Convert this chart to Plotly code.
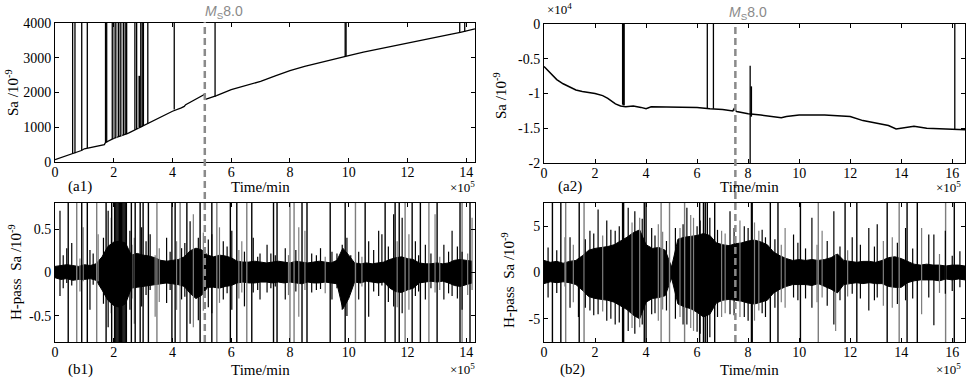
import numpy as np
import plotly.graph_objects as go

# ---------------- data (x in units of 1e5 min) ----------------
# (a1) Sa, station 1 (1e-9)
a1_t = [0, 0.3, 0.6, 0.9, 1.0, 1.3, 1.5, 1.68, 1.72, 2.0, 2.5, 3.0, 3.5, 4.0, 4.3, 4.4, 4.45,
        4.8, 5.1, 5.12, 5.5, 6.0, 6.5, 7.0, 7.5, 8.0, 8.5, 9.0, 9.5, 10.0, 10.5, 11.0, 11.5,
        12.0, 12.5, 13.0, 13.5, 13.8, 14.0, 14.3]
a1_v = [70, 150, 240, 330, 380, 430, 470, 500, 560, 680, 830, 1040, 1260, 1460, 1560, 1600, 1650,
        1800, 1950, 1800, 1910, 2080, 2190, 2320, 2480, 2630, 2750, 2860, 2960, 3060, 3160, 3250, 3340,
        3420, 3510, 3600, 3680, 3730, 3770, 3830]
# spikes in (a1): time, bottom, top, colour (k=black, g=grey)
a1_spk_t = [0.60, 0.68, 0.91, 1.10, 1.72, 1.76, 1.95, 2.00, 2.05, 2.10, 2.16, 2.22, 2.27, 2.33, 2.39, 2.44,
            2.72, 2.78, 2.84, 2.88, 2.92, 2.97, 3.01, 3.16, 4.06, 5.45, 9.88, 9.91, 13.78, 13.95]
a1_spk_lo = [240, 250, 330, 400, 560, 560, 660, 680, 690, 700, 720, 740, 750, 770, 790, 800,
             930, 950, 970, 990, 1000, 1020, 1040, 1100, 1510, 1880, 3050, 3050, 3720, 3740]
a1_spk_hi = [4100, 4100, 4100, 4100, 4100, 4100, 4100, 4100, 4100, 4100, 4100, 4100, 4100, 4100, 4100, 4100,
             4100, 4100, 2480, 2480, 4100, 4100, 4100, 4100, 4100, 4100, 4100, 4100, 4100, 4100]
a1_spk_c = ['k', 'k', 'k', 'k', 'k', 'k', 'k', 'g', 'k', 'g', 'k', 'k', 'g', 'k', 'k', 'k',
            'k', 'k', 'g', 'k', 'k', 'k', 'k', 'k', 'k', 'k', 'k', 'k', 'k', 'k']

# (a2) Sa, station 2 (1e4 x 1e-9)
a2_t = [0, 0.25, 0.5, 0.75, 1.0, 1.25, 1.5, 2.0, 2.3, 2.5, 2.8, 3.0, 3.2, 3.5, 3.8, 4.0, 4.2, 5.0,
        6.0, 6.5, 7.0, 7.4, 7.45, 7.55, 8.0, 8.5, 9.0, 9.3, 9.5, 10.0, 11.0, 12.0, 12.5, 13.0,
        13.5, 13.8, 14.0, 14.5, 15.0, 15.5, 16.0, 16.5]
a2_v = [-0.61, -0.70, -0.80, -0.86, -0.91, -0.95, -0.97, -1.00, -1.03, -1.07, -1.15, -1.18, -1.19,
        -1.18, -1.20, -1.22, -1.19, -1.19, -1.20, -1.22, -1.23, -1.25, -1.22, -1.26, -1.29, -1.31,
        -1.33, -1.35, -1.33, -1.31, -1.31, -1.33, -1.39, -1.43, -1.46, -1.51, -1.50, -1.47, -1.50,
        -1.51, -1.51, -1.52]
a2_spk_t = [3.08, 3.10, 3.12, 3.14, 6.40, 6.64, 8.08, 8.12, 8.13, 16.1]
a2_spk_lo = [-1.16, -1.16, -1.17, -1.17, -1.21, -1.22, -2.05, -1.33, -1.33, -1.51]
a2_spk_hi = [0.05, 0.05, 0.05, 0.05, 0.05, 0.05, -0.60, -0.90, -0.90, 0.05]

# (b1) high-pass Sa, station 1: envelope of dense noise, sampled every 0.2e5 min
b1_env_hi = [0.07, 0.08, 0.09, 0.08, 0.07, 0.09, 0.08, 0.10, 0.18, 0.30, 0.35, 0.36, 0.34, 0.20,
             0.22, 0.20, 0.19, 0.17, 0.14, 0.13, 0.14, 0.15, 0.18, 0.25, 0.28, 0.26, 0.20, 0.18,
             0.20, 0.19, 0.17, 0.13, 0.12, 0.12, 0.13, 0.12, 0.11, 0.12, 0.13, 0.12, 0.11, 0.13,
             0.12, 0.11, 0.12, 0.13, 0.12, 0.11, 0.14, 0.28, 0.20, 0.11, 0.10, 0.11, 0.10, 0.11,
             0.12, 0.15, 0.17, 0.18, 0.16, 0.15, 0.11, 0.10, 0.10, 0.11, 0.10, 0.11, 0.14, 0.15,
             0.14, 0.13]
b1_env_lo = [-0.06, -0.08, -0.07, -0.09, -0.08, -0.08, -0.07, -0.09, -0.20, -0.32, -0.38, -0.40,
             -0.36, -0.18, -0.17, -0.16, -0.15, -0.14, -0.13, -0.12, -0.13, -0.14, -0.16, -0.24,
             -0.30, -0.26, -0.17, -0.17, -0.18, -0.16, -0.15, -0.12, -0.11, -0.12, -0.12, -0.11,
             -0.11, -0.12, -0.11, -0.12, -0.11, -0.12, -0.13, -0.11, -0.12, -0.12, -0.11, -0.12,
             -0.13, -0.42, -0.30, -0.11, -0.12, -0.10, -0.11, -0.12, -0.11, -0.18, -0.22, -0.23,
             -0.20, -0.18, -0.12, -0.11, -0.10, -0.11, -0.10, -0.12, -0.15, -0.16, -0.14, -0.12]
b1_hair_t = [0.17, 0.40, 0.57, 0.96, 1.19, 1.47, 1.81, 1.92, 2.55, 2.70, 2.95, 3.24, 3.41, 3.80,
             4.14, 4.31, 4.60, 4.71, 4.88, 5.34, 5.60, 5.73, 6.02, 6.36, 6.45, 6.75, 6.98, 7.22,
             7.50, 7.84, 8.30, 8.51, 8.74, 9.04, 9.43, 9.78, 10.07, 10.34, 10.68, 11.02, 11.13,
             11.53, 11.82, 12.05, 12.27, 12.61, 12.94, 13.24, 13.52, 13.86, 14.20,
             0.28, 0.85, 1.30, 1.65, 2.62, 3.10, 3.55, 3.92, 4.42, 5.05, 5.22, 5.86, 6.26, 6.90,
             7.35, 7.95, 8.20, 8.90, 9.20, 9.60, 9.94, 10.45, 10.85, 11.35, 11.65, 12.38, 12.80,
             13.10, 13.40, 13.70, 14.05]
b1_hair_hi = [0.71, 0.28, 0.34, 0.52, 0.26, 0.44, 0.71, 0.63, 0.48, 0.40, 0.52, 0.44, 0.20, 0.40,
              0.36, 0.28, 0.59, 0.67, 0.40, 0.44, 0.52, 0.36, 0.48, 0.36, 0.24, 0.40, 0.22, 0.32,
              0.20, 0.28, 0.52, 0.48, 0.22, 0.28, 0.24, 0.32, 0.20, 0.24, 0.36, 0.48, 0.44,
              0.67, 0.63, 0.44, 0.36, 0.32, 0.67, 0.32, 0.48, 0.24, 0.63,
              0.20, 0.16, 0.22, 0.40, 0.32, 0.36, 0.28, 0.24, 0.34, 0.46, 0.38, 0.30, 0.26, 0.18,
              0.22, 0.20, 0.26, 0.20, 0.18, 0.22, 0.40, 0.18, 0.26, 0.30, 0.36, 0.20, 0.22,
              0.18, 0.24, 0.30, 0.22]
b1_hair_lo = [-0.27, -0.12, -0.15, -0.10, -0.43, -0.10, -0.63, -0.47, -0.43, -0.59, -0.39, -0.20,
              -0.51, -0.35, -0.43, -0.31, -0.59, -0.63, -0.55, -0.47, -0.35, -0.31, -0.43, -0.23,
              -0.39, -0.23, -0.31, -0.23, -0.16, -0.31, -0.51, -0.20, -0.23, -0.19, -0.31, -0.43,
              -0.20, -0.31, -0.51, -0.27, -0.15, -0.39, -0.47, -0.43, -0.27, -0.31, -0.23, -0.31,
              -0.27, -0.43, -0.20,
              -0.18, -0.22, -0.14, -0.36, -0.30, -0.26, -0.34, -0.20, -0.28, -0.44, -0.40, -0.24,
              -0.30, -0.20, -0.18, -0.26, -0.22, -0.20, -0.24, -0.18, -0.50, -0.16, -0.22, -0.34,
              -0.40, -0.22, -0.18, -0.20, -0.24, -0.30, -0.26]
b1_hair_c = ['k', 'k', 'k', 'g', 'k', 'g', 'k', 'k', 'k', 'g', 'k', 'k', 'g', 'k',
             'g', 'k', 'k', 'g', 'k', 'k', 'g', 'k', 'k', 'g', 'k', 'k', 'k', 'k',
             'k', 'k', 'g', 'g', 'k', 'k', 'k', 'k', 'k', 'k', 'k', 'k', 'k',
             'k', 'k', 'g', 'k', 'k', 'g', 'k', 'k', 'k', 'g',
             'k', 'g', 'k', 'k', 'g', 'k', 'g', 'k', 'k', 'g', 'k', 'k', 'g', 'k',
             'k', 'g', 'k', 'k', 'g', 'k', 'k', 'g', 'k', 'k', 'g', 'k', 'k',
             'g', 'k', 'k', 'g']
b1_full_t = [0.45, 0.74, 0.91, 1.10, 1.42, 1.74, 1.93, 2.03, 2.07, 2.11, 2.15, 2.19, 2.23, 2.27,
             2.31, 2.35, 2.39, 2.43, 2.60, 2.73, 2.90, 3.00, 3.18, 3.47, 3.98,
             4.09, 4.26, 4.49, 4.94, 5.34, 5.51, 5.97, 6.19, 6.53, 6.70, 7.44, 7.56, 8.00, 8.14,
             8.41, 8.58, 9.37, 9.88, 10.23, 10.56, 11.24, 11.58, 11.72, 11.92, 12.16, 12.44,
             12.73, 13.01, 13.79, 13.86, 14.13]
b1_full_c = ['k', 'g', 'k', 'k', 'g', 'k', 'k', 'k', 'k', 'k', 'k', 'k', 'k', 'k',
             'k', 'k', 'k', 'k', 'k', 'k', 'k', 'k', 'k', 'g', 'k',
             'k', 'g', 'k', 'k', 'k', 'g', 'k', 'k', 'g', 'k', 'k', 'k', 'g', 'g',
             'k', 'k', 'k', 'k', 'g', 'k', 'k', 'k', 'k', 'g', 'k', 'k',
             'g', 'k', 'k', 'g', 'k']

# (b2) high-pass Sa, station 2: envelope sampled every 0.25e5 min
b2_env_hi = [1.3, 1.1, 1.2, 1.0, 1.2, 1.3, 1.8, 2.4, 2.6, 2.7, 2.8, 3.0, 3.4, 3.8, 4.3, 4.6, 3.0,
             2.6, 2.7, 2.4, 0.6, 3.6, 3.8, 3.9, 4.0, 4.2, 4.0, 3.2, 3.0, 2.9, 3.1, 3.2, 3.4, 3.5,
             3.3, 3.0, 2.2, 1.8, 1.5, 1.3, 1.4, 1.3, 1.4, 1.3, 1.4, 1.6, 2.0, 1.3, 1.2, 1.1, 1.2,
             1.2, 1.1, 1.3, 1.6, 1.7, 1.5, 1.2, 0.9, 0.8, 0.9, 0.8, 0.8, 0.7, 0.8, 0.8, 0.7]
b2_env_lo = [-1.2, -1.0, -1.1, -1.0, -1.1, -1.3, -1.9, -2.6, -2.8, -2.9, -3.0, -3.2, -3.6, -4.0,
             -4.6, -5.0, -3.2, -2.8, -2.7, -2.5, -0.6, -3.4, -3.7, -3.9, -4.3, -4.8, -4.5, -3.3,
             -3.0, -2.9, -3.0, -3.1, -3.3, -3.4, -3.2, -3.0, -2.2, -1.8, -1.5, -1.3, -1.3, -1.3,
             -1.4, -1.2, -1.5, -1.8, -2.2, -1.3, -1.2, -1.1, -1.2, -1.1, -1.2, -1.2, -1.5, -1.6,
             -1.6, -1.1, -0.9, -0.8, -0.8, -0.8, -0.9, -0.7, -0.8, -0.7, -0.8]
b2_hair_t = [0.16, 0.82, 1.02, 1.35, 1.80, 2.12, 2.46, 2.79, 3.30, 3.56, 3.75, 4.22, 4.48, 4.80,
             5.33, 5.60, 5.86, 6.12, 6.50, 6.96, 7.29, 7.68, 8.00, 8.42, 8.68, 9.45, 9.78, 10.50,
             10.90, 11.36, 11.43, 12.08, 12.73, 13.06, 13.65, 14.17, 14.80, 15.08, 15.28, 15.73,
             16.30,
             0.50, 1.15, 1.62, 1.95, 2.30, 2.62, 2.95, 3.45, 3.85, 4.35, 4.65, 5.15, 5.45, 5.75,
             6.00, 6.80, 7.10, 7.45, 7.85, 8.25, 8.55, 9.05, 9.30, 9.95, 10.25, 10.70, 11.10,
             11.60, 11.90, 12.40, 12.95, 13.30, 13.85, 14.45, 15.50, 16.00]
b2_hair_hi = [2.7, 3.8, 3.8, 1.5, 4.5, 6.8, 5.6, 4.5, 7.0, 6.6, 5.9, 4.8, 5.2, 3.4,
              4.8, 7.0, 5.9, 5.6, 5.9, 4.5, 6.6, 5.6, 4.8, 4.5, 3.8, 4.8, 4.1, 5.9,
              4.5, 6.6, 2.0, 3.8, 4.8, 5.2, 3.8, 4.8, 4.8, 4.1, 4.1, 4.5, 2.3,
              2.4, 3.0, 3.6, 4.2, 4.0, 4.6, 5.0, 5.4, 5.8, 4.0, 4.4, 4.8, 5.2, 6.2,
              5.0, 4.6, 4.2, 4.8, 5.0, 5.4, 4.6, 3.6, 3.0, 3.2, 2.6, 3.0, 3.4,
              2.8, 2.4, 3.0, 2.8, 3.4, 3.2, 2.6, 2.0, 1.8]
b2_hair_lo = [-2.7, -1.5, -3.8, -4.8, -4.1, -4.5, -5.2, -5.6, -6.3, -6.6, -5.9, -4.5, -5.2, -4.1,
              -4.8, -5.6, -6.3, -6.6, -7.0, -4.8, -4.5, -4.8, -5.2, -4.1, -4.8, -3.8, -2.7, -3.8,
              -2.7, -5.6, -6.3, -2.3, -4.1, -2.7, -3.8, -3.0, -4.5, -2.7, -5.7, -2.3, -1.6,
              -2.2, -3.2, -3.8, -4.6, -4.2, -5.0, -5.4, -6.0, -5.6, -4.4, -4.0, -5.0, -5.6, -6.0,
              -6.4, -4.8, -4.4, -4.6, -4.8, -5.2, -4.4, -3.8, -3.2, -3.0, -2.8, -3.2, -3.6,
              -3.0, -2.6, -2.8, -3.0, -3.6, -3.4, -2.8, -2.2, -2.0]
b2_hair_c = ['k', 'g', 'k', 'k', 'k', 'k', 'k', 'k', 'k', 'k', 'g', 'k', 'g', 'k',
             'g', 'k', 'g', 'k', 'k', 'g', 'k', 'g', 'k', 'g', 'k', 'g', 'k', 'k',
             'g', 'k', 'g', 'k', 'k', 'k', 'g', 'k', 'g', 'k', 'k', 'k', 'k',
             'k', 'g', 'k', 'k', 'g', 'k', 'k', 'g', 'k', 'k', 'g', 'k', 'k', 'g',
             'k', 'k', 'g', 'k', 'k', 'g', 'k', 'k', 'g', 'k', 'k', 'g', 'k',
             'k', 'g', 'k', 'k', 'g', 'k', 'k', 'g', 'k']
b2_full_t = [0.33, 0.66, 0.85, 1.38, 1.57, 3.08, 3.12, 3.93, 4.00, 4.59, 4.92, 5.51, 6.10, 6.25,
             6.32, 6.40, 6.69, 8.13, 8.16, 8.87, 9.17, 10.05, 10.75, 11.80, 12.26, 13.45, 13.92,
             14.23, 14.63, 15.74, 16.08]
b2_full_c = ['k', 'k', 'g', 'k', 'g', 'k', 'k', 'k', 'k', 'g', 'g', 'g', 'k', 'k',
             'k', 'k', 'k', 'k', 'k', 'k', 'k', 'k', 'g', 'k', 'k', 'k', 'g',
             'k', 'k', 'g', 'k']

eq1_t = 5.1   # Ms8.0 time, station 1
eq2_t = 7.5   # Ms8.0 time, station 2

# ---------------- helpers ----------------
W, H = 970, 381
BLACK = '#000000'
GREY = '#7d7d7d'
SERIF = 'Liberation Serif, Times New Roman, serif'


def px(x):
    return x / W


def py(y):
    return 1 - y / H


def segs(ts, los, his, cols, want):
    xs, ys = [], []
    for t, lo, hi, c in zip(ts, los, his, cols):
        if c == want:
            xs += [t, t, None]
            ys += [lo, hi, None]
    return xs, ys


fig = go.Figure()

# (a1)
fig.add_trace(go.Scatter(x=a1_t, y=a1_v, mode='lines', line=dict(color=BLACK, width=1.3),
                         xaxis='x', yaxis='y', showlegend=False))
for c, col in (('g', GREY), ('k', BLACK)):
    xs, ys = segs(a1_spk_t, a1_spk_lo, a1_spk_hi, a1_spk_c, c)
    fig.add_trace(go.Scatter(x=xs, y=ys, mode='lines', line=dict(color=col, width=1.3),
                             xaxis='x', yaxis='y', showlegend=False))

# (a2)
fig.add_trace(go.Scatter(x=a2_t, y=a2_v, mode='lines', line=dict(color=BLACK, width=1.5),
                         xaxis='x2', yaxis='y2', showlegend=False))
xs, ys = segs(a2_spk_t, a2_spk_lo, a2_spk_hi, ['k'] * len(a2_spk_t), 'k')
fig.add_trace(go.Scatter(x=xs, y=ys, mode='lines', line=dict(color=BLACK, width=1.3),
                         xaxis='x2', yaxis='y2', showlegend=False))


def noise_panel(xa, ya, step, hi, lo, h_t, h_hi, h_lo, h_c, f_t, f_c, big):
    t = np.round(np.arange(len(hi)) * step, 3)
    fig.add_trace(go.Scatter(x=t, y=hi, mode='lines', line=dict(color=BLACK, width=1),
                             xaxis=xa, yaxis=ya, showlegend=False))
    fig.add_trace(go.Scatter(x=t, y=lo, mode='lines', line=dict(color=BLACK, width=1),
                             fill='tonexty', fillcolor=BLACK,
                             xaxis=xa, yaxis=ya, showlegend=False))
    for c, col in (('g', GREY), ('k', BLACK)):
        xs, ys = segs(h_t, h_lo, h_hi, h_c, c)
        fig.add_trace(go.Scatter(x=xs, y=ys, mode='lines', line=dict(color=col, width=1.2),
                                 xaxis=xa, yaxis=ya, showlegend=False))
        xs, ys = segs(f_t, [-big] * len(f_t), [big] * len(f_t), f_c, c)
        fig.add_trace(go.Scatter(x=xs, y=ys, mode='lines', line=dict(color=col, width=1.4),
                                 xaxis=xa, yaxis=ya, showlegend=False))


noise_panel('x3', 'y3', 0.2, b1_env_hi, b1_env_lo, b1_hair_t, b1_hair_hi, b1_hair_lo, b1_hair_c,
            b1_full_t, b1_full_c, 2)
noise_panel('x4', 'y4', 0.25, b2_env_hi, b2_env_lo, b2_hair_t, b2_hair_hi, b2_hair_lo, b2_hair_c,
            b2_full_t, b2_full_c, 20)

# ---------------- axes ----------------
left_dom = [px(55), px(475)]
right_dom = [px(544), px(965)]
top_dom_l = [py(162), py(23)]
top_dom_r = [py(163), py(24)]
bot_dom = [py(342), py(203)]

axcommon = dict(showline=True, linecolor=BLACK, linewidth=1, mirror='ticks', ticks='inside',
                ticklen=4, tickcolor=BLACK, showgrid=False, zeroline=False, automargin=False,
                tickfont=dict(family=SERIF, size=14, color=BLACK))
xcommon = dict(ticklabelstandoff=-3, **axcommon)

xt1 = [0, 2, 4, 6, 8, 10, 12, 14]
xt2 = [0, 2, 4, 6, 8, 10, 12, 14, 16]

fig.update_layout(
    width=W, height=H, margin=dict(l=0, r=0, t=0, b=0, pad=0), autosize=False,
    paper_bgcolor='white', plot_bgcolor='white',
    xaxis=dict(domain=left_dom, anchor='y', range=[0, 14.3], tickvals=xt1, **xcommon),
    yaxis=dict(domain=top_dom_l, anchor='x', range=[0, 4000], tickvals=[0, 1000, 2000, 3000, 4000],
               **axcommon),
    xaxis2=dict(domain=right_dom, anchor='y2', range=[0, 16.5], tickvals=xt2, **xcommon),
    yaxis2=dict(domain=top_dom_r, anchor='x2', range=[-2, 0], tickvals=[-2, -1.5, -1, -0.5, 0],
                ticktext=['-2', '-1.5', '-1', '-0.5', '0'], **axcommon),
    xaxis3=dict(domain=left_dom, anchor='y3', range=[0, 14.3], tickvals=xt1, **xcommon),
    yaxis3=dict(domain=bot_dom, anchor='x3', range=[-0.8, 0.8], tickvals=[-0.5, 0, 0.5],
                ticktext=['-0.5', '0', '0.5'], **axcommon),
    xaxis4=dict(domain=right_dom, anchor='y4', range=[0, 16.5], tickvals=xt2, **xcommon),
    yaxis4=dict(domain=bot_dom, anchor='x4', range=[-7.5, 7.5], tickvals=[-5, 0, 5],
                ticktext=['-5', '0', '5'], **axcommon),
)

# Ms8.0 dashed lines
for xr, t, ytop in (('x', eq1_t, py(22)), ('x2', eq2_t, py(23))):
    fig.add_shape(type='line', xref=xr, yref='paper', x0=t, x1=t, y0=py(342), y1=ytop,
                  line=dict(color='#8a8a8a', width=2.5, dash='7px,4px'), layer='above')

ann = []


def txt(x, y, s, size=15, xanchor='center', angle=0, color=BLACK, family=SERIF):
    ann.append(dict(x=px(x), y=py(y), xref='paper', yref='paper', text=s, showarrow=False,
                    xanchor=xanchor, yanchor='middle', textangle=angle,
                    font=dict(family=family, size=size, color=color)))


ms = '<i>M</i><sub>S</sub>8.0'
txt(203, 12, ms, size=14, xanchor='left', color='#8a8a8a', family='Liberation Sans, Arial, sans-serif')
txt(727, 13, ms, size=14, xanchor='left', color='#8a8a8a', family='Liberation Sans, Arial, sans-serif')

txt(12, 93, 'Sa /10<sup>-9</sup>', angle=-90)
txt(500, 95, 'Sa /10<sup>-9</sup>', angle=-90)
txt(15, 272, 'H-pass  Sa /10<sup>-9</sup>', angle=-90)
txt(508, 280, 'H-pass  Sa /10<sup>-9</sup>', angle=-90)

txt(80, 186, '(a1)')
txt(260, 187, 'Time/min')
txt(477, 187, '×10<sup>5</sup>', size=13, xanchor='right')
txt(570, 186, '(a2)')
txt(749, 187, 'Time/min')
txt(963, 187, '×10<sup>5</sup>', size=13, xanchor='right')
txt(559, 9, '×10<sup>4</sup>', size=13)

txt(80, 369, '(b1)')
txt(260, 370, 'Time/min')
txt(477, 369, '×10<sup>5</sup>', size=13, xanchor='right')
txt(572, 369, '(b2)')
txt(749, 370, 'Time/min')
txt(963, 369, '×10<sup>5</sup>', size=13, xanchor='right')

fig.update_layout(annotations=ann)

fig.write_html('out.html', config={'displayModeBar': False},
               post_script="document.body.style.margin='0px';document.body.style.padding='0px';"
                           "document.body.style.overflow='hidden';")
